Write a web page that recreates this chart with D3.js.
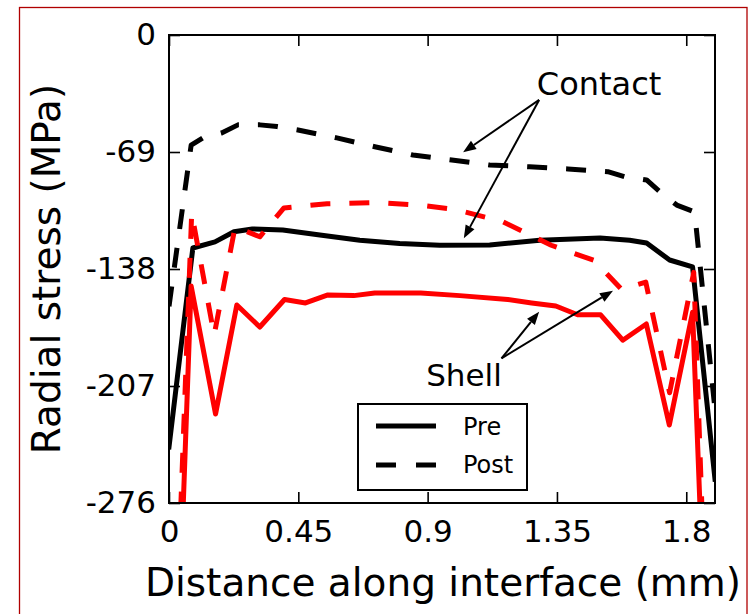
<!DOCTYPE html>
<html><head><meta charset="utf-8">
<script src="https://cdn.jsdelivr.net/npm/d3@7"></script>
<style>
body{margin:0;background:#fff}
svg{display:block}
text{font-family:"DejaVu Sans",sans-serif;fill:#000}
</style>
</head><body>
<svg id="c" width="751" height="614"></svg>
<script>
// ---- data ----
const xTicks = [0, 0.45, 0.9, 1.35, 1.8];
const xTickLabels = ["0", "0.45", "0.9", "1.35", "1.8"];
const yTicks = [0, -69, -138, -207, -276];
const yTickLabels = ["0", "-69", "-138", "-207", "-276"];

const contactPreX = [0, 0.083, 0.16, 0.226, 0.29, 0.396, 0.525, 0.664, 0.803, 0.942, 1.116, 1.29, 1.50, 1.603, 1.662, 1.742, 1.822, 1.9];
const contactPreY = [-243, -125.6, -122, -116, -114.4, -115, -118, -121, -123, -124, -123.8, -121, -119.7, -121, -122.7, -132.7, -136.8, -262];

const contactPostX = [0, 0.077, 0.118, 0.183, 0.24, 0.316, 0.376, 0.449, 0.584, 0.716, 0.849, 0.984, 1.116, 1.255, 1.388, 1.527, 1.586, 1.662, 1.708, 1.767, 1.829, 1.9];
const contactPostY = [-160, -65, -60.7, -57.8, -53, -53, -54, -56, -60.7, -65.9, -70.8, -73.7, -76.7, -77.7, -79, -80.6, -83.6, -85.5, -92.4, -100.3, -104.4, -221];

const shellPreX = [0, 0.077, 0.162, 0.236, 0.316, 0.402, 0.475, 0.553, 0.643, 0.716, 0.876, 1.012, 1.179, 1.262, 1.346, 1.422, 1.502, 1.579, 1.661, 1.741, 1.822, 1.9];
const shellPreY = [-510, -148, -223.5, -159.2, -172.2, -156, -158, -153.3, -153.7, -152.2, -152.2, -153.7, -156, -158, -159.8, -165, -165, -180, -170.4, -230, -163.5, -510];

const shellPostX = [0, 0.079, 0.157, 0.23, 0.316, 0.40, 0.55, 0.72, 0.88, 1.0, 1.16, 1.33, 1.48, 1.575, 1.659, 1.742, 1.826, 1.9];
const shellPostY = [-465, -105, -177, -113.2, -119, -102, -99.5, -98.8, -100.5, -103, -110, -124, -133, -150, -145.7, -211, -140, -500];

const seriesNames = ["Pre", "Post"];
const contactLabel = "Contact";
const shellLabel = "Shell";
const contactTextPos = [1.28, -35.5];
const contactArrowFrom = [1.288, -38.3];
const contactArrowTo = [[1.0235, -69.2], [1.026, -119.9]];
const shellTextPos = [1.158, -207];
const shellArrowFrom = [1.157, -190.7];
const shellArrowTo = [[1.288, -163.2], [1.545, -150.8]];

// ---- chart ----
const svg = d3.select("#c");
const P = {l: 169, t: 35, r: 715, b: 503};
const x = d3.scaleLinear().domain([0, 1.9]).range([P.l, P.r]);
const y = d3.scaleLinear().domain([-276, 0]).range([P.b, P.t]);

svg.append("rect").attr("x", 19.5).attr("y", 7.5).attr("width", 727.5).attr("height", 620)
  .attr("fill", "none").attr("stroke", "#b00000").attr("stroke-width", 1.3);

svg.append("defs").append("clipPath").attr("id", "clip")
  .append("rect").attr("x", P.l).attr("y", P.t).attr("width", P.r - P.l).attr("height", P.b - P.t);

const line = d3.line().x(d => x(d[0])).y(d => y(d[1]));
const zip = (a, b) => a.map((v, i) => [v, b[i]]);

const g = svg.append("g").attr("clip-path", "url(#clip)");
const series = [
  {xs: contactPreX, ys: contactPreY, color: "#000", dash: null},
  {xs: contactPostX, ys: contactPostY, color: "#000", dash: "20,19"},
  {xs: shellPreX, ys: shellPreY, color: "#ff0000", dash: null},
  {xs: shellPostX, ys: shellPostY, color: "#ff0000", dash: "20,19"}
];
series.forEach(s => {
  g.append("path").attr("d", line(zip(s.xs, s.ys)))
    .attr("fill", "none").attr("stroke", s.color).attr("stroke-width", 5)
    .attr("stroke-linejoin", "round")
    .attr("stroke-linecap", s.dash ? "butt" : "square")
    .attr("stroke-dasharray", s.dash);
});

// axes
const fmtX = d => xTickLabels[xTicks.indexOf(d)];
const fmtY = d => yTickLabels[yTicks.indexOf(d)];
const ax = [
  svg.append("g").attr("transform", `translate(0,${P.b})`)
    .call(d3.axisBottom(x).tickValues(xTicks).tickFormat(fmtX).tickSizeInner(-11).tickSizeOuter(0).tickPadding(17)),
  svg.append("g").attr("transform", `translate(0,${P.t})`)
    .call(d3.axisTop(x).tickValues(xTicks).tickFormat("").tickSizeInner(-11).tickSizeOuter(0)),
  svg.append("g").attr("transform", `translate(${P.l},0)`)
    .call(d3.axisLeft(y).tickValues(yTicks).tickFormat(fmtY).tickSizeInner(-11).tickSizeOuter(0).tickPadding(13)),
  svg.append("g").attr("transform", `translate(${P.r},0)`)
    .call(d3.axisRight(y).tickValues(yTicks).tickFormat("").tickSizeInner(-11).tickSizeOuter(0))
];
ax.forEach(a => {
  a.select(".domain").remove();
  a.selectAll(".tick line").attr("stroke", "#000").attr("stroke-width", 1.6);
  a.selectAll(".tick text").attr("font-size", 31).attr("font-family", "DejaVu Sans").attr("fill", "#000");
});
svg.append("rect").attr("x", P.l).attr("y", P.t).attr("width", P.r - P.l).attr("height", P.b - P.t)
  .attr("fill", "none").attr("stroke", "#000").attr("stroke-width", 2);

// axis titles
svg.append("text").attr("x", 443).attr("y", 596).attr("text-anchor", "middle")
  .attr("font-size", 39).text("Distance along interface (mm)");
svg.append("text").attr("transform", `translate(60,${(P.t + P.b) / 2}) rotate(-90)`).attr("text-anchor", "middle")
  .attr("font-size", 39).text("Radial stress (MPa)");

// annotations
function arrow(from, to) {
  const x0 = x(from[0]), y0 = y(from[1]), x1 = x(to[0]), y1 = y(to[1]);
  const ang = Math.atan2(y1 - y0, x1 - x0);
  const hl = 13, hw = 5;
  const bx = x1 - hl * Math.cos(ang), by = y1 - hl * Math.sin(ang);
  svg.append("line").attr("x1", x0).attr("y1", y0).attr("x2", bx).attr("y2", by)
    .attr("stroke", "#000").attr("stroke-width", 2);
  const px = -Math.sin(ang), py = Math.cos(ang);
  svg.append("path").attr("d", `M${x1},${y1}L${bx + hw * px},${by + hw * py}L${bx - hw * px},${by - hw * py}Z`)
    .attr("fill", "#000");
}
contactArrowTo.forEach(t => arrow(contactArrowFrom, t));
shellArrowTo.forEach(t => arrow(shellArrowFrom, t));
svg.append("text").attr("x", x(contactTextPos[0])).attr("y", y(contactTextPos[1])).attr("font-size", 32).text(contactLabel);
svg.append("text").attr("x", x(shellTextPos[0])).attr("y", y(shellTextPos[1])).attr("text-anchor", "end").attr("font-size", 31).text(shellLabel);

// legend
const L = svg.append("g");
L.append("rect").attr("x", 358).attr("y", 404).attr("width", 169).attr("height", 86)
  .attr("fill", "#fff").attr("stroke", "#000").attr("stroke-width", 2);
[null, "20,20"].forEach((d, i) => {
  const yy = 426 + i * 39;
  L.append("line").attr("x1", 376).attr("x2", 436).attr("y1", yy).attr("y2", yy)
    .attr("stroke", "#000").attr("stroke-width", 5).attr("stroke-dasharray", d);
  L.append("text").attr("x", 463).attr("y", 435 + i * 38).attr("font-size", 24).text(seriesNames[i]);
});
</script>
</body></html>
